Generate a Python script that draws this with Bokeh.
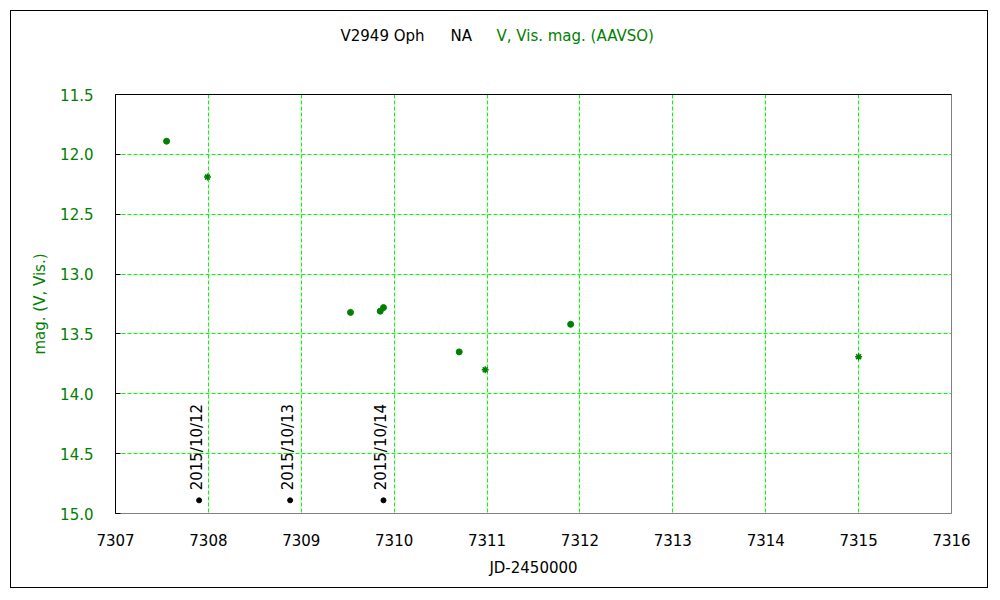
import math
from bokeh.plotting import figure
from bokeh.layouts import column
from bokeh.models import Range1d, FixedTicker, LinearAxis, ColumnDataSource, CustomJSTickFormatter
from bokeh.core.properties import value
from bokeh.embed import file_html
from bokeh.resources import INLINE

# ---- data ----
v_jd = [7307.55, 7309.53, 7309.85, 7309.885, 7310.70, 7311.90]
v_mag = [11.89, 13.32, 13.31, 13.28, 13.65, 13.42]
vis_jd = [7307.99, 7310.98, 7315.00]
vis_mag = [12.19, 13.80, 13.69]
date_jd = [7307.90, 7308.88, 7309.885]
date_mag = [14.89, 14.89, 14.89]
date_labels = ["2015/10/12", "2015/10/13", "2015/10/14"]
x_ticks = [7307, 7308, 7309, 7310, 7311, 7312, 7313, 7314, 7315, 7316]
y_ticks = [11.5, 12.0, 12.5, 13.0, 13.5, 14.0, 14.5, 15.0]
title_parts = ["V2949 Oph", "NA", "V, Vis. mag. (AAVSO)"]

FONT = "DejaVu Sans"
GREEN = "#008000"
GRID = "#00ff00"

# ---- title strip (frame aligned with the main plot frame: page x 115..951) ----
t = figure(width=976, height=60, output_backend="svg", toolbar_location=None,
           x_range=Range1d(115, 951), y_range=Range1d(60, 0),
           min_border=0, outline_line_color=None)
t.axis.visible = False
t.grid.visible = False
t.text(x=[340, 450], y=[24, 24], text=title_parts[:2], text_font=value(FONT), text_font_size="15px",
       text_color="black", text_baseline="middle", text_align="left")
t.text(x=[496], y=[24], text=title_parts[2:], text_font=value(FONT), text_font_size="15px",
       text_color=GREEN, text_baseline="middle", text_align="left")

# ---- main plot ----
p = figure(width=976, height=516, output_backend="svg", toolbar_location=None,
           x_range=Range1d(7307, 7316), y_range=Range1d(15.0, 11.5),
           min_border_left=104, min_border_right=36, min_border_top=23, min_border_bottom=74,
           x_axis_label="JD-2450000", y_axis_label="mag. (V, Vis.)")
p.outline_line_color = "#808080"
p.outline_line_width = 1

xa = p.xaxis[0]
xa.ticker = FixedTicker(ticks=x_ticks)
xa.axis_line_color = "#808080"
xa.major_tick_line_color = None
xa.minor_tick_line_color = None
xa.major_label_text_font = FONT
xa.major_label_text_font_size = "15px"
xa.major_label_text_color = "black"
xa.major_label_standoff = 14
xa.axis_label_text_font = FONT
xa.axis_label_text_font_size = "15px"
xa.axis_label_text_font_style = "normal"
xa.axis_label_text_color = "black"
xa.axis_label_standoff = 10

ya = p.yaxis[0]
ya.ticker = FixedTicker(ticks=y_ticks)
ya.formatter = CustomJSTickFormatter(code="return tick.toFixed(1);")
ya.axis_line_color = "black"
ya.major_tick_in = 5
ya.major_tick_out = 0
ya.major_tick_line_color = "black"
ya.minor_tick_line_color = None
ya.major_label_text_font = FONT
ya.major_label_text_font_size = "15px"
ya.major_label_text_color = GREEN
ya.major_label_standoff = 22
ya.axis_label_text_font = FONT
ya.axis_label_text_font_size = "15px"
ya.axis_label_text_font_style = "normal"
ya.axis_label_text_color = GREEN
ya.axis_label_standoff = 8

top = LinearAxis(ticker=FixedTicker(ticks=[]), axis_line_color="black",
                 major_tick_line_color=None, minor_tick_line_color=None,
                 major_label_text_font_size="0px")
p.add_layout(top, "above")

for g in (p.xgrid[0], p.ygrid[0]):
    g.grid_line_color = GRID
    g.grid_line_dash = "4 2"
    g.grid_line_width = 1
p.xgrid[0].ticker = FixedTicker(ticks=x_ticks)
p.ygrid[0].ticker = FixedTicker(ticks=y_ticks)

p.scatter(v_jd, v_mag, marker="circle", size=6, fill_color=GREEN, line_color=GREEN)
p.scatter(vis_jd, vis_mag, marker="asterisk", size=7, line_color=GREEN, line_width=1.5)

src = ColumnDataSource(dict(x=date_jd, y=date_mag, t=date_labels))
p.scatter("x", "y", source=src, marker="circle", size=5, fill_color="black", line_color="black")
p.text("x", "y", text="t", source=src, angle=math.pi / 2, text_align="left",
       text_baseline="middle", x_offset=-2, y_offset=-10,
       text_font=value(FONT), text_font_size="15px", text_color="black")

layout = column(t, p, spacing=0)
layout.margin = (10, 0, 0, 10)
layout.styles = {"border": "1px solid black"}

open("out.html", "w").write(file_html(layout, INLINE))
